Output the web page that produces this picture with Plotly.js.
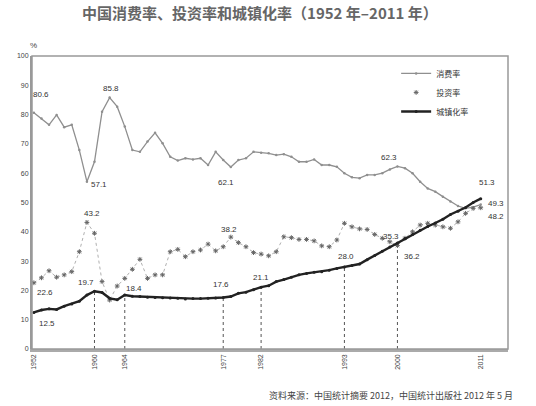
<!DOCTYPE html>
<html><head><meta charset="utf-8">
<script src="https://cdn.plot.ly/plotly-3.0.1.min.js"></script>
<style>html,body{margin:0;padding:0;background:#fff;}#c{width:536px;height:406px;}</style>
</head><body><div id="c"></div>
<script>
// ---- data ----
const years = [1952,1953,1954,1955,1956,1957,1958,1959,1960,1961,1962,1963,1964,1965,1966,1967,1968,1969,1970,1971,1972,1973,1974,1975,1976,1977,1978,1979,1980,1981,1982,1983,1984,1985,1986,1987,1988,1989,1990,1991,1992,1993,1994,1995,1996,1997,1998,1999,2000,2001,2002,2003,2004,2005,2006,2007,2008,2009,2010,2011];
const consumption = [80.6,78.7,76.5,79.9,75.7,76.5,67.9,57.1,63.9,81.0,85.8,82.7,75.9,67.9,67.3,70.8,73.8,70.2,65.6,64.3,65.1,64.7,65.1,62.8,67.3,64.5,62.1,64.5,65.1,67.3,67.0,66.8,66.2,66.5,65.6,63.9,63.9,64.7,62.8,62.8,62.2,60.0,58.6,58.3,59.4,59.4,60.0,61.3,62.3,61.7,60.0,57.1,54.8,53.7,52.0,50.3,48.8,48.0,48.4,49.3];
const investment = [22.6,24.3,26.7,24.5,25.3,26.4,33.2,43.2,39.5,23.0,16.7,21.5,24.1,27.2,30.6,24.1,25.3,25.3,33.2,34.0,31.5,33.2,33.8,35.8,33.5,34.9,38.2,36.3,34.9,32.9,32.4,31.8,33.2,38.3,38.0,37.4,37.4,36.9,35.2,34.9,37.2,42.9,41.7,41.0,40.8,39.1,37.8,36.6,35.3,37.8,40.0,42.3,42.9,42.3,41.7,41.2,43.4,46.3,48.0,48.2];
const urbanization = [12.5,13.3,13.7,13.5,14.6,15.4,16.3,18.4,19.7,19.3,17.3,16.8,18.4,18.0,17.9,17.7,17.6,17.5,17.4,17.3,17.1,17.2,17.2,17.3,17.4,17.6,17.9,19.0,19.4,20.2,21.1,21.6,23.0,23.7,24.5,25.3,25.8,26.2,26.4,26.9,27.5,28.0,28.5,29.0,30.5,31.9,33.4,34.8,36.2,37.7,39.1,40.5,41.8,43.0,44.3,45.9,47.0,48.3,50.0,51.3];
const tickYears = [1952,1960,1964,1977,1982,1993,2000,2011];
const dropYears = [1960,1964,1977,1982,1993,2000];
const seriesNames = ['消费率','投资率','城镇化率'];
const consLabelYears = [1952,1959,1962,1978,2000,2011];
const invLabelYears = [1952,1959,1978,2000,2011];
const urbLabelYears = [1952,1960,1964,1977,1982,1993,2000,2011];
const titleText = '中国消费率、投资率和城镇化率（1952 年–2011 年）';
const sourceText = '资料来源：中国统计摘要 2012，中国统计出版社 2012 年 5 月';

// ---- label offsets (pixels) ----
const consOff = {1952:[7,18],1959:[12,-3],1962:[1,9],1978:[-5,-15],2000:[-8,9],2011:[15,1]};
const invOff = {1952:[11,-10],1959:[5,9],1978:[-2,8],2000:[-6,9],2011:[15,-9]};
const urbOff = {1952:[13,-11],1960:[-8,9],1964:[9,7],1977:[-2,13],1982:[0,10],1993:[2,10],2000:[15,-14],2011:[6,16]};

const valAt = (arr, y) => arr[years.indexOf(y)];
const FONT = 'Liberation Sans, Noto Sans CJK SC, sans-serif';

const traces = [
  {x: years, y: consumption, name: seriesNames[0], mode: 'lines+markers', type: 'scatter',
   line: {color: '#8f8f8f', width: 1.3}, marker: {size: 2.5, color: '#8f8f8f'}},
  {x: years, y: investment, showlegend: false, mode: 'lines', type: 'scatter', hoverinfo: 'skip',
   line: {color: '#b0b0b0', width: 1, dash: 'dot'}},
  {x: years, y: investment, name: seriesNames[1], mode: 'markers', type: 'scatter',
   marker: {symbol: 'asterisk-open', size: 4, color: '#666', line: {color: '#666', width: 1}}},
  {x: years, y: urbanization, name: seriesNames[2], mode: 'lines+markers', type: 'scatter',
   line: {color: '#222', width: 2.4}, marker: {size: 3, color: '#222'}}
];

const shapes = dropYears.map(yr => ({
  type: 'line', xref: 'x', yref: 'y', x0: yr, x1: yr, y0: 0, y1: valAt(urbanization, yr),
  line: {color: '#555', width: 1, dash: 'dot'}, layer: 'below'
}));

const annotations = [];
function addLabels(arr, yrs, off) {
  yrs.forEach(yr => {
    const v = valAt(arr, yr);
    annotations.push({x: yr, y: v, xref: 'x', yref: 'y', text: v.toFixed(1), showarrow: false,
      xshift: off[yr][0], yshift: off[yr][1], font: {family: FONT, size: 8, color: '#333'}});
  });
}
addLabels(consumption, consLabelYears, consOff);
addLabels(investment, invLabelYears, invOff);
addLabels(urbanization, urbLabelYears, urbOff);
annotations.push({xref: 'paper', yref: 'paper', x: 0.003, y: 1.012, xanchor: 'center', yanchor: 'bottom',
  text: '%', showarrow: false, font: {family: FONT, size: 8, color: '#444'}});
annotations.push({xref: 'paper', yref: 'paper', x: 1.015, y: -0.13, xanchor: 'right', yanchor: 'top',
  text: sourceText, showarrow: false, font: {family: 'Noto Sans CJK SC, sans-serif', size: 9, color: '#444'}});

const layout = {
  width: 536, height: 406,
  margin: {l: 32, r: 28, t: 56, b: 57},
  paper_bgcolor: '#fff', plot_bgcolor: '#fff',
  title: {text: titleText, x: 0.485, xanchor: 'center', y: 0.965, yanchor: 'middle',
    font: {family: 'Noto Sans CJK SC, sans-serif', size: 15, color: '#666', weight: 'bold'}},
  xaxis: {range: [1951.75, 2014.6], tickvals: tickYears, ticktext: tickYears.map(String), tickangle: -90,
    showgrid: false, zeroline: false, showline: true, linecolor: '#aaa', linewidth: 2.5, mirror: false,
    ticks: '', tickfont: {family: FONT, size: 7, color: '#444'}},
  yaxis: {range: [0, 100], dtick: 10, showgrid: false, zeroline: false, showline: true,
    linecolor: '#999', linewidth: 2, ticks: '', tickfont: {family: FONT, size: 7, color: '#444'}},
  showlegend: true,
  legend: {x: 0.765, y: 0.99, xanchor: 'left', yanchor: 'top', bgcolor: 'rgba(0,0,0,0)',
    font: {family: 'Noto Sans CJK SC, sans-serif', size: 8, color: '#333'}, itemwidth: 30},
  shapes: shapes.concat([{type: 'rect', xref: 'paper', yref: 'paper', x0: 0, x1: 1, y0: 0, y1: 1,
    line: {color: '#999', width: 1.5}}]),
  annotations: annotations
};

Plotly.newPlot('c', traces, layout, {displayModeBar: false, staticPlot: true});
</script></body></html>
